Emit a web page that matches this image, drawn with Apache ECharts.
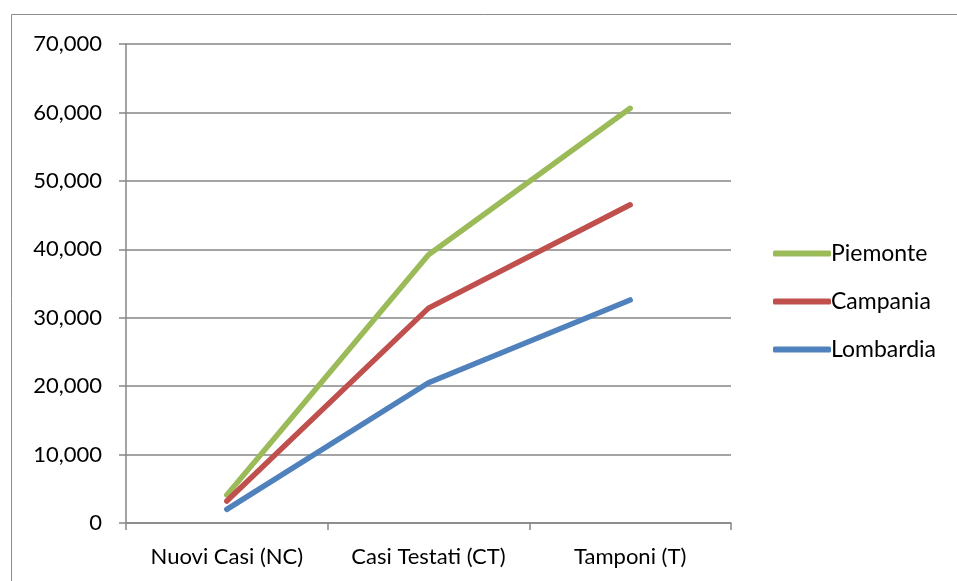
<!DOCTYPE html>
<html><head><meta charset="utf-8">
<script src="https://cdn.jsdelivr.net/npm/echarts@6/dist/echarts.min.js"></script>
<style>html,body{margin:0;padding:0;background:#fff}#c{width:957px;height:581px}</style>
</head><body><div id="c"></div>
<script>
const categories = ['Nuovi Casi (NC)', 'Casi Testati (CT)', 'Tamponi (T)'];
const seriesNames = ['Piemonte', 'Campania', 'Lombardia'];
const piemonte = [4100, 39200, 60600];
const campania = [3200, 31400, 46500];
const lombardia = [2000, 20500, 32600];
const colors = ['#9BBB59', '#C0504D', '#4F81BD'];
const values = [piemonte, campania, lombardia];
const font = 'Lato, "Open Sans", sans-serif';

const chart = echarts.init(document.getElementById('c'));
chart.setOption({
  animation: false,
  graphic: [{type:'rect', shape:{x:11.5,y:14.5,width:960,height:600}, style:{fill:'none', stroke:'#8c8c8c', lineWidth:1}, silent:true}],
  grid: {left:126, right:226, top:44, bottom:58, containLabel:false},
  legend: {
    orient:'vertical', left:768, top:237, itemGap:25, itemWidth:58, itemHeight:6,
    icon:'roundRect',
    textStyle:{fontFamily:font, fontSize:23, color:'#000', padding:[0,0,0,-5]},
    data: seriesNames
  },
  xAxis: {
    type:'category', data:categories, boundaryGap:true,
    axisLine:{lineStyle:{color:'#868686', width:1.5}},
    axisTick:{show:true, length:7, lineStyle:{color:'#868686', width:1.5}},
    axisLabel:{fontFamily:font, fontSize:22, color:'#000', margin:23}
  },
  yAxis: {
    type:'value', min:0, max:70000, interval:10000,
    axisLine:{show:true, lineStyle:{color:'#868686', width:1.5}},
    axisTick:{show:true, length:7, lineStyle:{color:'#868686', width:1.5}},
    splitLine:{lineStyle:{color:'#868686', width:1.5}},
    axisLabel:{fontFamily:font, fontSize:22, color:'#000', margin:24,
      formatter: v => v.toLocaleString('en-US')}
  },
  series: seriesNames.map((n,i)=>({
    name:n, type:'line', data:values[i], symbol:'none',
    lineStyle:{color:colors[i], width:5.5, cap:'round'}, itemStyle:{color:colors[i]}
  }))
});
</script></body></html>
